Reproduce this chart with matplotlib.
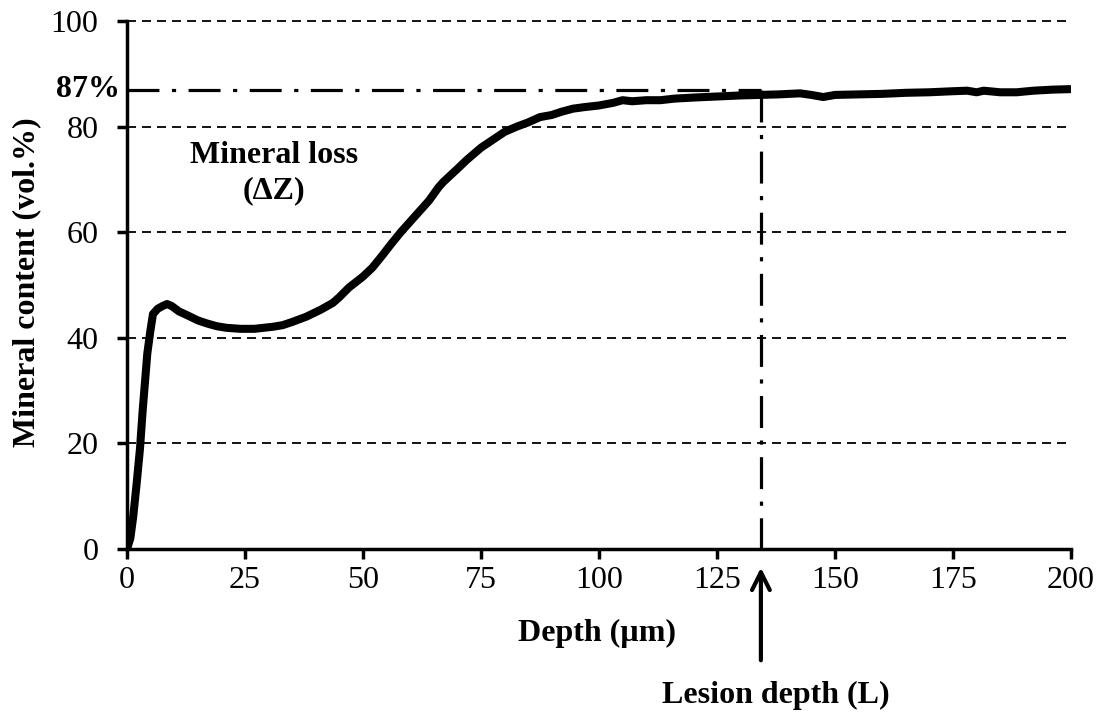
import matplotlib
matplotlib.use("Agg")
import matplotlib.pyplot as plt
import matplotlib.transforms as mtransforms

plt.rcParams['font.family'] = ['Liberation Serif', 'DejaVu Serif']
plt.rcParams['lines.scale_dashes'] = False

depth = [0, 0.7, 1.3, 2, 2.75, 3.3, 3.8, 4.3, 4.9, 5.5, 6.5, 7.5, 8.5, 9.5, 11, 12.7,
         15, 17, 19, 21, 24, 27, 29, 31, 33, 35, 38, 41, 43.6, 45, 47, 50, 52, 54, 56,
         58, 60, 62, 64, 66, 67, 70, 72, 75, 77.5, 80, 82.6, 85, 87.5, 90, 92, 94.5,
         97, 100, 103, 105, 107, 110, 113, 116, 120, 125, 130, 134, 138, 142.6, 145,
         147.5, 150, 155, 160, 165, 170, 175, 178, 180, 181.5, 185, 188.5, 192, 196, 200]
mineral = [0, 2, 6, 12, 19, 26, 31.5, 37, 41, 44.5, 45.5, 46, 46.4, 46, 45, 44.3,
           43.3, 42.7, 42.2, 41.9, 41.7, 41.7, 41.9, 42.1, 42.4, 43, 44, 45.3, 46.6, 47.7,
           49.5, 51.6, 53.3, 55.5, 57.8, 60, 62, 64, 66, 68.5, 69.5, 72, 73.7, 76, 77.5,
           79, 80, 80.8, 81.8, 82.2, 82.8, 83.4, 83.7, 84, 84.5, 85, 84.8, 85, 85, 85.3,
           85.5, 85.7, 85.9, 86, 86.1, 86.3, 86, 85.6, 86, 86.1, 86.2, 86.4, 86.5, 86.7,
           86.8, 86.5, 86.8, 86.5, 86.5, 86.8, 87, 87.1]

x_ticks = [0, 25, 50, 75, 100, 125, 150, 175, 200]
y_ticks = [0, 20, 40, 60, 80, 100]
plateau = 87
lesion_depth = 134.3

W, H = 1105, 717
fig = plt.figure(figsize=(W / 100, H / 100), dpi=100)
ax = fig.add_axes([127 / W, (H - 549) / H, (1071 - 127) / W, (549 - 21) / H])

for yv in y_ticks[1:]:
    ax.plot([0, 200], [yv, yv], color='black', lw=1.3, dashes=(6.5, 4.3), zorder=1,
            clip_on=False)

ax.plot([0, lesion_depth], [plateau, plateau], color='black', lw=2.3,
        dashes=(23, 9, 3, 9), zorder=2)
ax.plot([lesion_depth, lesion_depth], [plateau, 0], color='black', lw=2.3,
        dashes=(23, 9, 3, 9), zorder=2)

ax.plot(depth, mineral, color='black', lw=5.8, solid_capstyle='butt', zorder=3)

ax.set_xlim(0, 200)
ax.set_ylim(0, 100)
ax.set_xticks(x_ticks)
ax.set_yticks(y_ticks)
ax.tick_params(axis='both', direction='out', length=7.5, width=2.5, labelsize=23)
ax.tick_params(axis='y', pad=13)
ax.tick_params(axis='x', pad=5)
for s in ['top', 'right']:
    ax.spines[s].set_visible(False)
for s in ['left', 'bottom']:
    ax.spines[s].set_linewidth(2.5)

fig.text(597 / W, 1 - 633 / H, 'Depth (µm)', fontsize=23, fontweight='bold',
         ha='center', va='center')
fig.text(27 / W, 1 - 282 / H, 'Mineral content (vol.%)', fontsize=23,
         fontweight='bold', ha='center', va='center', rotation=90)

ax.text(-0.007, plateau, '87%', fontsize=23, fontweight='bold', ha='right',
        va='center', transform=mtransforms.blended_transform_factory(ax.transAxes, ax.transData))
ax.text(31.2, 71.2, 'Mineral loss\n(ΔZ)', fontsize=23, fontweight='bold', ha='center',
        va='center', linespacing=1.25)

trans = mtransforms.blended_transform_factory(ax.transData, ax.transAxes)
ax.annotate('', xy=(lesion_depth, -0.03), xycoords=trans,
            xytext=(lesion_depth, -0.216), textcoords=trans,
            arrowprops=dict(arrowstyle='->', lw=3, color='black', mutation_scale=32))
fig.text(776 / W, 1 - 695 / H, 'Lesion depth (L)', fontsize=23,
         fontweight='bold', ha='center', va='center')

fig.savefig('out.png', dpi=100)
